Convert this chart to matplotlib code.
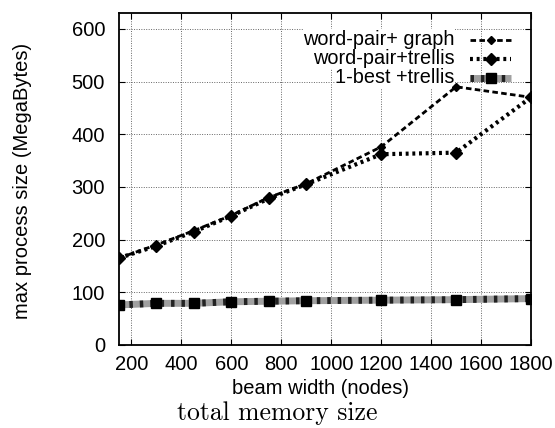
import matplotlib
matplotlib.use("Agg")
import matplotlib.pyplot as plt

beam = [150, 300, 450, 600, 750, 900, 1200, 1500, 1800]
wp_graph = [165, 190, 217, 246, 280, 306, 376, 490, 470]
wp_trellis = [165, 188, 215, 245, 278, 305, 362, 365, 470]
best_trellis = [76, 79, 79, 82, 83, 84, 85, 86, 88]
labels = ["word-pair+ graph", "word-pair+trellis", "1-best +trellis"]

plt.rcParams["font.family"] = ["Liberation Sans", "DejaVu Sans"]

fig = plt.figure(figsize=(5.55, 4.28), dpi=100)
ax = fig.add_axes([0.2144, 0.194, 0.7424, 0.7756])

ax.plot(beam, best_trellis, color="#a0a0a0", lw=5, solid_capstyle="butt", zorder=2)
ax.plot(beam, best_trellis, color="#222222", lw=5, dashes=(0.5, 1.0), zorder=3,
        marker="s", markersize=7.5, markerfacecolor="black", markeredgecolor="black")
ax.plot(beam, wp_trellis, color="black", lw=3, dashes=(0.7, 0.9), zorder=4,
        marker="D", markersize=6)
ax.plot(beam, wp_graph, color="black", lw=2, dashes=(2.0, 1.2), zorder=5,
        marker="D", markersize=4)

ax.set_xlim(150, 1800)
ax.set_ylim(0, 630)
ax.set_xticks(range(200, 1801, 200))
ax.set_yticks(range(0, 601, 100))
ax.tick_params(direction="in", top=True, right=True, labelsize=14.5, length=4)
ax.tick_params(axis="x", pad=7)
ax.tick_params(axis="y", pad=10)
ax.grid(True, color="#666666", linestyle=(0, (1, 1.5)), lw=0.7)
for s in ax.spines.values():
    s.set_linewidth(1.3)

ax.set_xlabel("beam width (nodes)", fontsize=14.5, va="center")
ax.set_ylabel("max process size (MegaBytes)", fontsize=14.5, va="center")
ax.xaxis.set_label_coords(0.49, -0.13)
ax.yaxis.set_label_coords(-0.233, 0.494)

# gnuplot-style key: right-aligned text, sample on the right
tr = ax.transAxes
rows = [0.920, 0.862, 0.805]
x0, x1, xt = 0.852, 0.952, 0.815
ax.plot([x0, x1], [rows[0]] * 2, transform=tr, color="black", lw=2, dashes=(2.0, 1.2))
ax.plot([(x0 + x1) / 2], [rows[0]], transform=tr, color="black", marker="D", markersize=4)
ax.plot([x0, x1], [rows[1]] * 2, transform=tr, color="black", lw=3, dashes=(0.7, 0.9))
ax.plot([(x0 + x1) / 2], [rows[1]], transform=tr, color="black", marker="D", markersize=6)
ax.plot([x0, x1], [rows[2]] * 2, transform=tr, color="#a0a0a0", lw=5, solid_capstyle="butt")
ax.plot([x0, x1], [rows[2]] * 2, transform=tr, color="#222222", lw=5, dashes=(0.5, 1.0))
ax.plot([(x0 + x1) / 2], [rows[2]], transform=tr, color="black", marker="s", markersize=7.5)
for lab, y in zip(labels, rows):
    ax.text(xt, y, lab, transform=tr, ha="right", va="center", fontsize=14.3,
            bbox=dict(facecolor="white", edgecolor="none", pad=0.5))

fig.text(0.5, 0.018, "total memory size", ha="center", va="baseline",
         fontsize=18.5, family="cmr10")

fig.savefig("out.png", dpi=100)
